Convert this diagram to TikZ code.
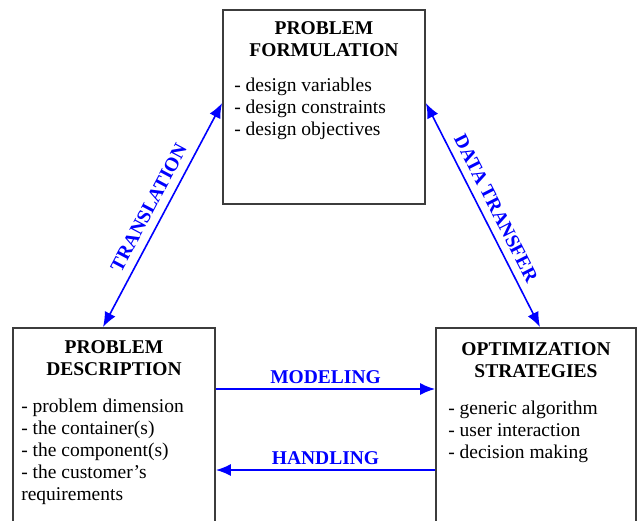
\documentclass[tikz,border=0pt]{standalone}
\usepackage{fontspec}
\setmainfont{Liberation Serif}
\usetikzlibrary{arrows.meta,positioning,calc}
\definecolor{boxgray}{RGB}{60,60,60}
\tikzset{
    box/.style={draw=boxgray, line width=1.8pt, rectangle, minimum width=202pt, minimum height=202pt, inner sep=0pt},
    boxtitle/.style={font=\fontsize{19.5}{22.5}\selectfont\bfseries, align=center, inner sep=0pt, anchor=north},
    boxitems/.style={font=\fontsize{19.5}{22}\selectfont, align=left, inner sep=0pt, anchor=north west},
    link/.style={-{Latex[length=15pt, width=12pt]}, line width=1.6pt, blue},
    biglink/.style={link, {Latex[length=15pt, width=12pt]}-{Latex[length=15pt, width=12pt]}},
    linklabel/.style={font=\fontsize{19.5}{22}\selectfont\bfseries, text=blue}
}

\begin{document}
\begin{tikzpicture}[x=1pt, y=1pt]
    \useasboundingbox (0,0) rectangle (640,-520);
    \clip (0,0) rectangle (640,-520);
    % boxes
    \node[box, minimum height=194pt] (formulation) at (324,-107) {};
    \node[box] (description) at (114,-429) {};
    \node[box, minimum width=200pt] (strategies) at (536,-429) {};
    % box texts
    \node[boxtitle, below=12pt of formulation.north] (formulation title) {PROBLEM\\FORMULATION};
    \node[boxitems] (formulation items) at ([xshift=12pt, yshift=-69pt]formulation.north west)
        {- design variables\\- design constraints\\- design objectives};
    \node[boxtitle, below=13pt of description.north] (description title) {PROBLEM\\DESCRIPTION};
    \node[boxitems] (description items) at ([xshift=9pt, yshift=-72pt]description.north west)
        {- problem dimension\\- the container(s)\\- the component(s)\\- the customer's\\requirements};
    \node[boxtitle, below=15pt of strategies.north] (strategies title) {OPTIMIZATION\\STRATEGIES};
    \node[boxitems] (strategies items) at ([xshift=13pt, yshift=-74pt]strategies.north west)
        {- generic algorithm\\- user interaction\\- decision making};
    % connectors
    \draw[biglink] ([xshift=-11pt]description.north) -- node[linklabel, sloped, above=5pt] {TRANSLATION} ([yshift=4pt]formulation.west);
    \draw[biglink] ([yshift=4pt]formulation.east) -- node[linklabel, sloped, above=4pt] {DATA TRANSFER} ([xshift=4pt]strategies.north);
    \draw[link] ([yshift=40pt]description.east) -- node[linklabel, above=1pt] {MODELING} ([yshift=40pt]strategies.west);
    \draw[link] ([yshift=-41pt]strategies.west) -- node[linklabel, above=1pt] {HANDLING} ([yshift=-41pt]description.east);
\end{tikzpicture}
\end{document}
